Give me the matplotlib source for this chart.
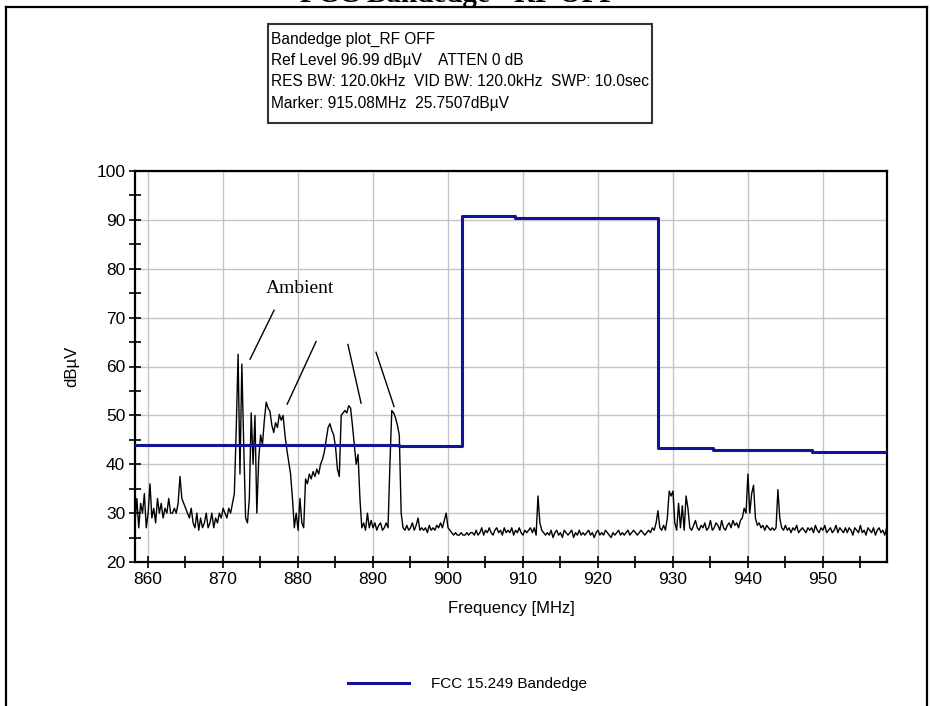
import matplotlib
matplotlib.use('Agg')
import matplotlib.pyplot as plt
import numpy as np
from matplotlib.ticker import MultipleLocator
from matplotlib.lines import Line2D
from matplotlib.patches import Rectangle

plt.rcParams['font.family'] = ['Liberation Sans', 'DejaVu Sans']

# sweep: start / step (MHz)
f_start = 858.3
f_step = 0.25
f_stop = 958.6

# measured trace (dBuV), one value per sweep point, 20 points per row
trace = [
    28, 33, 27, 32, 30, 34, 27, 30, 36, 29, 31, 28, 33, 30, 32, 29, 31, 30, 33, 30,
    30, 31, 30, 32, 37.5, 33, 32, 31, 30, 29, 31, 28, 27, 30, 26.5, 29, 27, 28, 30, 27,
    28, 30, 27, 29, 28, 30, 29, 31, 30, 29, 31, 30, 32, 34, 47, 62.5, 38, 60.5, 44, 29,
    28, 33, 50.5, 40, 50, 30, 41, 46, 44, 49, 52.7, 51.5, 50.8, 48, 46.5, 48.5, 47.5, 50.2, 49, 50,
    46, 43, 40.5, 38, 33, 27, 30, 26.5, 33, 28, 27, 37, 36, 38, 37, 38.5, 37.5, 39, 38, 40,
    41, 42.5, 45, 47.5, 48.3, 46.9, 46, 43.5, 39, 37.5, 50, 50.5, 51, 50.5, 52, 51.5, 48, 44, 40, 42,
    33, 27, 28, 26.5, 30, 27, 28.5, 27, 28, 26.5, 27.5, 28, 26.5, 27, 28, 27, 40, 51, 50.5, 49.5,
    48, 46, 30, 27, 26.5, 27.5, 26.5, 27, 28, 26.5, 27.5, 29, 26.5, 27, 26.5, 27, 26, 27.5, 26.5, 27,
    26.5, 27.5, 27, 28, 27, 28.5, 30, 27, 26.5, 26, 25.5, 26, 25.5, 25.5, 26, 25.5, 25.5, 26, 25.5, 26,
    26, 25.5, 26.5, 25.5, 26, 27, 25.5, 26.5, 26, 27, 26, 25.5, 26.5, 27, 26, 26.5, 25.5, 27, 26, 26.5,
    26, 27, 25.5, 26.5, 26, 27, 26, 25.5, 26.5, 26, 26.5, 27, 26, 27, 25.5, 33.5, 28, 26.5, 26, 25.5,
    26, 25.5, 26.5, 25, 26, 26.5, 25.5, 26, 25, 26.5, 26, 25.5, 26, 26.5, 25, 26, 25.5, 26.5, 25.5, 26,
    25.5, 26, 26.5, 25.5, 26, 25, 26, 26.5, 25.5, 26, 25.5, 26.5, 26, 25.5, 25, 26, 25.5, 26, 26.5, 25.5,
    26, 25.5, 26, 26.5, 25.5, 26, 26.5, 26, 25.5, 26, 26.5, 26, 25.5, 26, 26.5, 26, 27, 26.5, 28, 30.5,
    27, 26.5, 27.5, 26.5, 29, 34.5, 33.5, 34.5, 28, 26.5, 32, 27, 31.5, 26.5, 33.5, 31, 27, 26.5, 27.5, 28.5,
    27, 26.5, 27.5, 27, 28, 26.5, 27, 28.5, 26.5, 27, 28, 27.5, 26.5, 28.5, 27, 26.5, 27.5, 28, 27, 28.5,
    27.5, 28, 27, 28.5, 29, 31, 30, 38, 30, 34, 35.7, 29, 27.5, 28, 27, 27.5, 26.5, 27.5, 27, 26.5,
    27, 26.5, 27, 34.8, 29, 27, 26.5, 27.5, 26.5, 27, 26, 27, 26.5, 27.5, 26, 26.5, 27, 26.5, 26, 27,
    26.5, 27, 26, 27.5, 26.5, 26, 27, 26.5, 27.5, 26, 26.5, 27, 26, 26.5, 27.5, 26, 27, 26.5, 26, 27,
    26, 27, 26.5, 25.5, 27, 26.5, 26, 27.5, 26, 26.5, 25.5, 27, 26.5, 26, 27, 25.5, 26.5, 27, 26, 26.5,
    25.5, 27,
]
freq = f_start + f_step * np.arange(len(trace))

# FCC 15.249 limit (step line)
limit_freq = [858.3, 893.5, 901.9, 909.0, 928.0, 935.4, 948.6, 958.6]
limit_level = [44.0, 43.7, 90.7, 90.3, 43.3, 43.0, 42.6, 42.6]

# "Ambient" pointer lines: (x0, y0, x1, y1)
ambient_text = (880.3, 76.0)
ambient_lines = [
    (876.85, 71.5, 873.65, 61.5),
    (882.45, 65.1, 878.6, 52.3),
    (886.7, 64.5, 888.45, 52.5),
    (890.45, 62.9, 892.85, 51.8),
]

info_lines = [
    'Bandedge plot_RF OFF',
    'Ref Level 96.99 dB\u00b5V    ATTEN 0 dB',
    'RES BW: 120.0kHz  VID BW: 120.0kHz  SWP: 10.0sec',
    'Marker: 915.08MHz  25.7507dB\u00b5V',
]

W, H = 930, 706
fig = plt.figure(figsize=(W / 100, H / 100), dpi=100)
ax = fig.add_axes([135 / W, 1 - 562 / H, (887 - 135) / W, (562 - 171) / H])

ax.plot(freq, trace, color='black', lw=1.0, zorder=3)
lim_line, = ax.step(limit_freq, limit_level, where='post', color='#12129c', lw=2.2, zorder=4)

ax.set_xlim(f_start, f_stop)
ax.set_ylim(20, 100)
ax.xaxis.set_major_locator(MultipleLocator(10))
ax.xaxis.set_minor_locator(MultipleLocator(5))
ax.yaxis.set_major_locator(MultipleLocator(10))
ax.yaxis.set_minor_locator(MultipleLocator(5))
ax.grid(which='major', color='#c4c4c4', lw=1, zorder=0)
ax.tick_params(which='both', direction='inout', length=8, width=1.2, labelsize=12.5, pad=3)
for s in ax.spines.values():
    s.set_linewidth(1.6)

ax.set_xlabel('Frequency [MHz]', fontsize=12, labelpad=10)
ax.set_ylabel('dB\u00b5V', fontsize=12, labelpad=12)

ax.text(ambient_text[0], ambient_text[1], 'Ambient', family='Liberation Serif',
        fontsize=14, ha='center', va='center')
for x0, y0, x1, y1 in ambient_lines:
    ax.plot([x0, x1], [y0, y1], color='black', lw=1, zorder=5)

# info box
fig.patches.append(Rectangle((268 / W, 1 - 123 / H), (652 - 268) / W, (123 - 24) / H,
                             transform=fig.transFigure, fill=False, edgecolor='#333333', lw=1.5))
for i, t in enumerate(info_lines):
    fig.text(271 / W, 1 - (39 + i * 21.5) / H, t, fontsize=11.2, va='center', ha='left')

# outer frame
fig.add_artist(Line2D([5.5 / W, 5.5 / W], [0, 1 - 6.5 / H], color='black', lw=1.6, transform=fig.transFigure))
fig.add_artist(Line2D([5.5 / W, 927 / W], [1 - 6.5 / H, 1 - 6.5 / H], color='black', lw=1.6, transform=fig.transFigure))
fig.add_artist(Line2D([927 / W, 927 / W], [0, 1 - 6.5 / H], color='black', lw=1.6, transform=fig.transFigure))

# title, cut off at the top edge as in the source
fig.text(459 / W, 1 - 1.5 / H, 'FCC Bandedge - RF OFF', family='Liberation Serif', weight='bold',
         fontsize=21, ha='center', va='baseline')

fig.legend(handles=[lim_line], labels=['FCC 15.249 Bandedge'], loc='center left',
           bbox_to_anchor=(348 / W, 1 - 684 / H), frameon=False, fontsize=11,
           handlelength=4.0, handletextpad=1.4, borderpad=0, borderaxespad=0)

fig.savefig('out.png', dpi=100)
